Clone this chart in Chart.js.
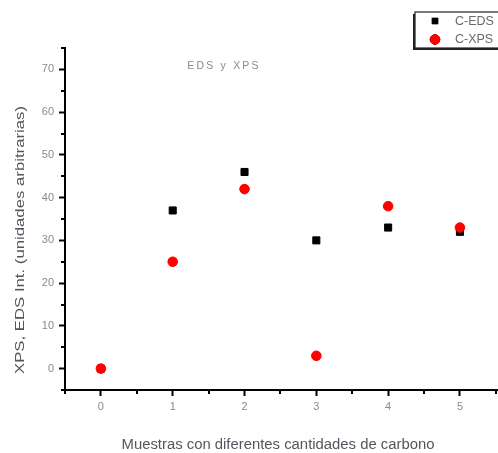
<!DOCTYPE html>
<html>
<head>
<meta charset="utf-8">
<script src="https://cdn.jsdelivr.net/npm/chart.js@4/dist/chart.umd.min.js"></script>
<style>
  html, body { margin: 0; padding: 0; background: #fff; }
  #wrap { width: 498px; height: 453px; position: relative; }
</style>
</head>
<body>
<div id="wrap"><canvas id="c" width="498" height="453"></canvas></div>
<script>
// Samples with different carbon content
const categories = [0, 1, 2, 3, 4, 5];
const edsValues = [0, 37, 46, 30, 33, 32];
const xpsValues = [0, 25, 42, 3, 38, 33];
const xTickLabels = [0, 1, 2, 3, 4, 5];
const yTickLabels = [0, 10, 20, 30, 40, 50, 60, 70];
const seriesNames = ['C-EDS', 'C-XPS'];

const chartTitle = 'EDS y XPS';
const xTitle = 'Muestras con diferentes cantidades de carbono';
const yTitle = 'XPS, EDS Int. (unidades arbitrarias)';

const toPoints = vals => categories.map((c, i) => ({ x: c, y: vals[i] }));

// Draw a text line stretched to a given length along its baseline
function stretchedText(ctx, text, x, y, length, angle) {
  const w = ctx.measureText(text).width;
  ctx.save();
  ctx.translate(x, y);
  ctx.rotate(angle);
  ctx.scale(length / w, 1);
  ctx.fillText(text, 0, 0);
  ctx.restore();
}

// Minor ticks halfway between the labelled ones, plus titles and the legend box
const decorations = {
  id: 'decorations',
  afterDraw(chart) {
    const { ctx, chartArea, scales } = chart;
    ctx.save();
    ctx.strokeStyle = '#000';
    ctx.lineWidth = 2;
    // x minor ticks
    for (let v = scales.x.min; v <= scales.x.max + 1e-9; v += 0.5) {
      if (Math.abs(v - Math.round(v)) < 1e-6) continue;
      const px = Math.round(scales.x.getPixelForValue(v));
      ctx.beginPath();
      ctx.moveTo(px, chartArea.bottom);
      ctx.lineTo(px, chartArea.bottom + 4);
      ctx.stroke();
    }
    // y minor ticks
    for (let v = scales.y.min; v <= scales.y.max + 1e-9; v += 5) {
      if (Math.abs(v % 10) < 1e-6) continue;
      const py = Math.round(scales.y.getPixelForValue(v));
      ctx.beginPath();
      ctx.moveTo(chartArea.left, py);
      ctx.lineTo(chartArea.left - 4, py);
      ctx.stroke();
    }

    // chart title inside the plot
    ctx.fillStyle = '#8a8a8a';
    ctx.font = '10.5px "Liberation Sans", Arial, sans-serif';
    ctx.textAlign = 'center';
    ctx.textBaseline = 'middle';
    ctx.letterSpacing = '2.2px';
    ctx.fillText(chartTitle, 224, 66);
    ctx.letterSpacing = '0px';

    // axis titles
    ctx.fillStyle = '#55555f';
    ctx.font = '14px "Liberation Sans", Arial, sans-serif';
    stretchedText(ctx, xTitle, 278, 445, 313, 0);
    ctx.font = '13px "Liberation Sans", Arial, sans-serif';
    stretchedText(ctx, yTitle, 20, 240, 268, -Math.PI / 2);

    // legend box with a drop shadow
    const bx = 415, by = 12, bw = 100, bh = 36;
    ctx.fillStyle = '#222';
    ctx.fillRect(bx - 2, by + 2, bw, bh);
    ctx.fillStyle = '#fff';
    ctx.fillRect(bx, by, bw, bh);
    ctx.strokeStyle = '#222';
    ctx.lineWidth = 1.2;
    ctx.strokeRect(bx, by, bw, bh);

    const rows = [21, 39.5];
    chart.data.datasets.forEach((ds, i) => {
      Chart.helpers.drawPoint(ctx, {
        pointStyle: ds.pointStyle,
        radius: i === 0 ? 3.8 : 4.8,
        borderWidth: 1,
        rotation: 0
      }, 435, rows[i]);
      ctx.fillStyle = ds.backgroundColor;
      ctx.strokeStyle = ds.borderColor;
      ctx.lineWidth = 1;
      ctx.fill();
      ctx.stroke();
      ctx.fillStyle = '#6e6a66';
      ctx.font = '12.5px "Liberation Sans", Arial, sans-serif';
      ctx.textAlign = 'left';
      ctx.textBaseline = 'middle';
      ctx.fillText(seriesNames[i], 455, rows[i] + 0.5);
    });
    ctx.restore();
  }
};

const axisCommon = {
  grid: {
    drawOnChartArea: false,
    drawTicks: true,
    tickLength: 6,
    tickWidth: 2,
    tickColor: '#000'
  },
  border: { display: true, color: '#000', width: 2 },
  ticks: {
    color: '#8a8a8a',
    font: { family: '"Liberation Sans", Arial, sans-serif', size: 11 },
    autoSkip: false
  }
};

new Chart(document.getElementById('c'), {
  type: 'scatter',
  data: {
    datasets: [
      {
        label: seriesNames[0],
        data: toPoints(edsValues),
        pointStyle: 'rect',
        pointRadius: 5,
        borderWidth: 1,
        backgroundColor: '#000',
        borderColor: '#000',
        order: 1
      },
      {
        label: seriesNames[1],
        data: toPoints(xpsValues),
        pointStyle: 'circle',
        pointRadius: 4.8,
        borderWidth: 1,
        backgroundColor: '#ff0000',
        borderColor: '#ff0000',
        order: 0
      }
    ]
  },
  options: {
    responsive: false,
    animation: false,
    layout: { autoPadding: false, padding: { top: 48, right: 0, left: 0, bottom: 0 } },
    plugins: {
      legend: { display: false },
      tooltip: { enabled: false }
    },
    scales: {
      x: {
        ...axisCommon,
        type: 'linear',
        position: 'bottom',
        min: -0.5,
        max: 5.53,
        ticks: { ...axisCommon.ticks, padding: 4 },
        afterBuildTicks: s => { s.ticks = xTickLabels.map(v => ({ value: v })); },
        afterFit: s => { s.height = 63; s.paddingLeft = 0; s.paddingRight = 0; }
      },
      y: {
        ...axisCommon,
        type: 'linear',
        position: 'left',
        min: -5,
        max: 75,
        ticks: { ...axisCommon.ticks, padding: 5 },
        afterBuildTicks: s => { s.ticks = yTickLabels.map(v => ({ value: v })); },
        afterFit: s => { s.width = 65; s.paddingTop = 0; s.paddingBottom = 0; }
      }
    }
  },
  plugins: [decorations]
});
</script>
</body>
</html>
